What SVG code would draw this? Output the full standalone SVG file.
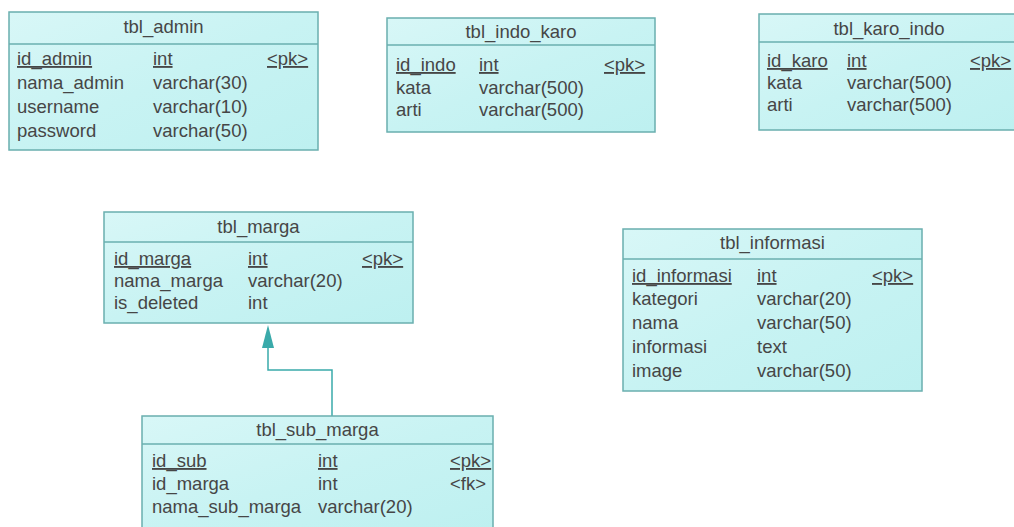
<svg xmlns="http://www.w3.org/2000/svg" width="1014" height="527" viewBox="0 0 1014 527">
  <style>
    .box { fill: url(#tblFill); stroke: #6aafaf; stroke-width: 1.5; }
    .sep { stroke: #6aafaf; stroke-width: 1.5; }
    text { font-family: "Liberation Sans", Arial, sans-serif; font-size: 18.5px; fill: #464646; }
    .title { text-anchor: middle; }
    .key { text-decoration: underline; }
    .link { fill: none; stroke: #3aaaaa; stroke-width: 1.5; }
  </style>
  <defs>
    <linearGradient id="tblFill" x1="0" y1="0" x2="1" y2="1">
      <stop offset="0" stop-color="#d8f7f7"/>
      <stop offset="0.5" stop-color="#c8f3f3"/>
      <stop offset="1" stop-color="#bdf0f0"/>
    </linearGradient>
  </defs>

  <rect width="1014" height="527" fill="#ffffff"/>

  <!-- connectors: sub_marga inherits from marga -->
  <g id="connectors">
    <path class="link" d="M332 416 V370 H268 V348"/>
    <path d="M268 325 L274 348 L262 348 Z" fill="#3aaaaa"/>
  </g>

  <!-- tbl_admin -->
  <g id="tbl_admin">
    <rect class="box" x="9" y="12" width="309" height="138"/>
    <line class="sep" x1="9" y1="44" x2="318" y2="44"/>
    <text class="title" x="163.5" y="33">tbl_admin</text>
    <text class="key" x="17" y="65">id_admin</text>
    <text class="key" x="153" y="65">int</text>
    <text class="key" x="267" y="65">&lt;pk&gt;</text>
    <text x="17" y="89">nama_admin</text>
    <text x="153" y="89">varchar(30)</text>
    <text x="17" y="113">username</text>
    <text x="153" y="113">varchar(10)</text>
    <text x="17" y="137">password</text>
    <text x="153" y="137">varchar(50)</text>
  </g>

  <!-- tbl_indo_karo -->
  <g id="tbl_indo_karo">
    <rect class="box" x="387" y="18" width="268" height="114"/>
    <line class="sep" x1="387" y1="45" x2="655" y2="45"/>
    <text class="title" x="521" y="38">tbl_indo_karo</text>
    <text class="key" x="396" y="71">id_indo</text>
    <text class="key" x="479" y="71">int</text>
    <text class="key" x="604" y="71">&lt;pk&gt;</text>
    <text x="396" y="94">kata</text>
    <text x="479" y="94">varchar(500)</text>
    <text x="396" y="116">arti</text>
    <text x="479" y="116">varchar(500)</text>
  </g>

  <!-- tbl_karo_indo -->
  <g id="tbl_karo_indo">
    <rect class="box" x="759" y="14" width="262" height="116"/>
    <line class="sep" x1="759" y1="42" x2="1021" y2="42"/>
    <text class="title" x="889" y="35">tbl_karo_indo</text>
    <text class="key" x="767" y="67">id_karo</text>
    <text class="key" x="847" y="67">int</text>
    <text class="key" x="970" y="67">&lt;pk&gt;</text>
    <text x="767" y="89">kata</text>
    <text x="847" y="89">varchar(500)</text>
    <text x="767" y="111">arti</text>
    <text x="847" y="111">varchar(500)</text>
  </g>

  <!-- tbl_marga -->
  <g id="tbl_marga">
    <rect class="box" x="104" y="212" width="309" height="111"/>
    <line class="sep" x1="104" y1="242" x2="413" y2="242"/>
    <text class="title" x="258.5" y="233">tbl_marga</text>
    <text class="key" x="114" y="265">id_marga</text>
    <text class="key" x="248" y="265">int</text>
    <text class="key" x="362" y="265">&lt;pk&gt;</text>
    <text x="114" y="287">nama_marga</text>
    <text x="248" y="287">varchar(20)</text>
    <text x="114" y="309">is_deleted</text>
    <text x="248" y="309">int</text>
  </g>

  <!-- tbl_informasi -->
  <g id="tbl_informasi">
    <rect class="box" x="623" y="229" width="299" height="162"/>
    <line class="sep" x1="623" y1="259" x2="922" y2="259"/>
    <text class="title" x="772.5" y="249">tbl_informasi</text>
    <text class="key" x="632" y="282">id_informasi</text>
    <text class="key" x="757" y="282">int</text>
    <text class="key" x="872" y="282">&lt;pk&gt;</text>
    <text x="632" y="305">kategori</text>
    <text x="757" y="305">varchar(20)</text>
    <text x="632" y="329">nama</text>
    <text x="757" y="329">varchar(50)</text>
    <text x="632" y="353">informasi</text>
    <text x="757" y="353">text</text>
    <text x="632" y="377">image</text>
    <text x="757" y="377">varchar(50)</text>
  </g>

  <!-- tbl_sub_marga -->
  <g id="tbl_sub_marga">
    <rect class="box" x="142" y="416" width="351" height="120"/>
    <line class="sep" x1="142" y1="444" x2="493" y2="444"/>
    <text class="title" x="317.5" y="436">tbl_sub_marga</text>
    <text class="key" x="152" y="467">id_sub</text>
    <text class="key" x="318" y="467">int</text>
    <text class="key" x="450" y="467">&lt;pk&gt;</text>
    <text x="152" y="490">id_marga</text>
    <text x="318" y="490">int</text>
    <text x="450" y="490">&lt;fk&gt;</text>
    <text x="152" y="513">nama_sub_marga</text>
    <text x="318" y="513">varchar(20)</text>
  </g>
</svg>
